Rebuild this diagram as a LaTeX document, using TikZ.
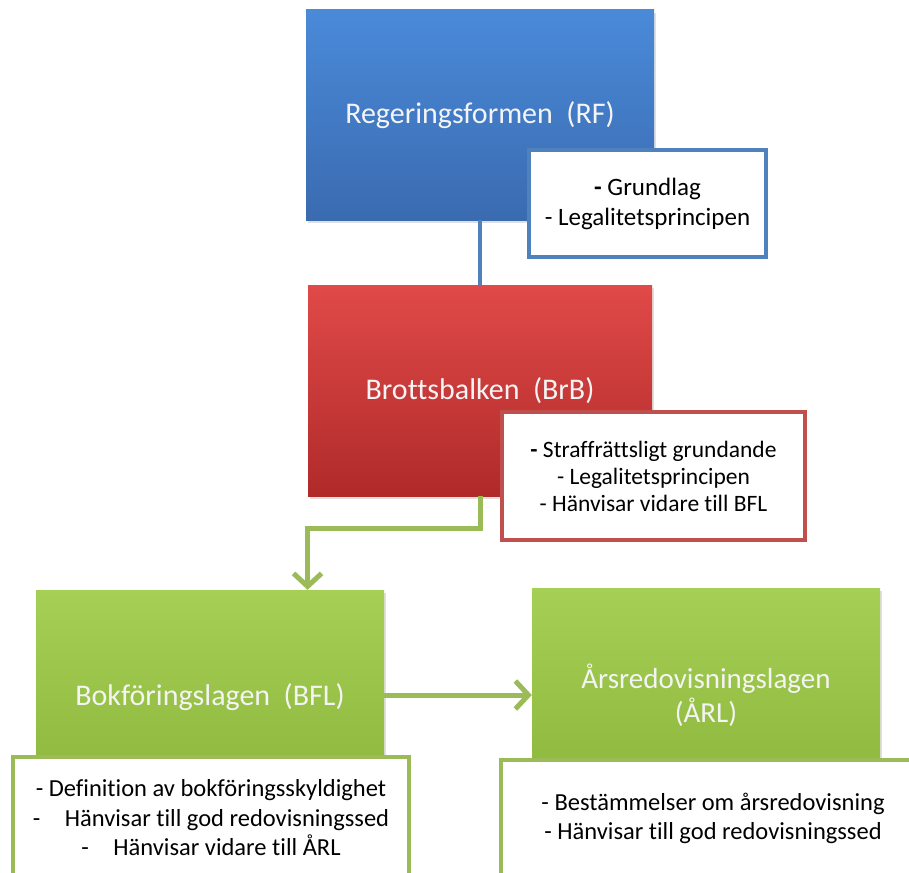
\documentclass[tikz,border=0pt]{standalone}
\usepackage{fontspec}
\setmainfont[Ligatures={NoCommon}]{Carlito}
\usetikzlibrary{arrows.meta,shadows,calc}
\definecolor{bluetop}{HTML}{4A8AD9}
\definecolor{bluebot}{HTML}{3A6BB0}
\definecolor{redtop}{HTML}{E04A48}
\definecolor{redbot}{HTML}{B02A2A}
\definecolor{greentop}{HTML}{A6CF55}
\definecolor{greenbot}{HTML}{8CB53C}
\definecolor{blueline}{HTML}{4F81BD}
\definecolor{redline}{HTML}{C0504D}
\definecolor{greenline}{HTML}{9BBB59}
\definecolor{titletext}{HTML}{F4F4F4}
\tikzset{
  mainbox/.style={rectangle, inner sep=0pt, text=titletext, align=center,
    font=\fontsize{30}{35}\selectfont,
    drop shadow={shadow xshift=2pt, shadow yshift=-3pt, opacity=0.25}},
  notebox/.style={rectangle, draw, line width=3.5pt, fill=white, inner sep=0pt,
    align=center, font=\fontsize{24.5}{29.5}\selectfont, text=black,
    drop shadow={shadow xshift=2pt, shadow yshift=-2pt, opacity=0.2}},
  blink/.style={draw=blueline, line width=4.5pt},
  glink/.style={draw=greenline, line width=5pt,
    -{Straight Barb[length=13pt,width=28pt,line width=5pt]}},
}
\begin{document}
\begin{tikzpicture}[x=1pt,y=-1pt]
\useasboundingbox (0,0) rectangle (909,872);
\clip (0,0) rectangle (909,872);
\fill[white] (0,0) rectangle (909,872);

% main boxes
\node[mainbox, top color=bluetop, bottom color=bluebot,
  minimum width=348pt, minimum height=210pt] (RF) at (480,115) {Regeringsformen\ \ (RF)};
\node[mainbox, top color=redtop, bottom color=redbot,
  minimum width=344pt, minimum height=211pt] (BrB) at (480,390.5) {Brottsbalken\ \ (BrB)};
\node[mainbox, top color=greentop, bottom color=greenbot,
  minimum width=348pt, minimum height=214pt] (BFL) at (210,697) {Bokföringslagen\ \ (BFL)};
\node[mainbox, top color=greentop, bottom color=greenbot,
  minimum width=348pt, minimum height=214pt, font=\fontsize{29}{34}\selectfont] (ARL) at (706,695) {Årsredovisningslagen\\(ÅRL)};

% connectors
\draw[blink] (RF.south) -- (BrB.north);
\coordinate (bend) at (480,528);
\coordinate (bflin) at ($(BFL.north west)!0.78!(BFL.north east)$);
\draw[glink] (BrB.south) -- (bend) -| (bflin);
\draw[glink] (BFL.east |- 0,695) -- (ARL.west |- 0,695);

% notes
\node[notebox, draw=blueline, minimum width=237pt, minimum height=107pt,
  font=\fontsize{25}{30}\selectfont]
  (RFn) at (647.5,203.5) {{\bfseries -} Grundlag\\- Legalitetsprincipen};
\node[notebox, draw=redline, minimum width=303pt, minimum height=128pt,
  font=\fontsize{23.5}{27}\selectfont]
  (BrBn) at (653.5,476) {{\bfseries -} Straffrättsligt grundande\\- Legalitetsprincipen\\- Hänvisar vidare till BFL};
\node[notebox, draw=greenline, minimum width=396pt, minimum height=122pt]
  (BFLn) at (211,818) {- Definition av bokföringsskyldighet\\-\quad Hänvisar till god redovisningssed\\-\quad Hänvisar vidare till ÅRL};
\node[notebox, draw=greenline, minimum width=424pt, minimum height=117pt]
  (ARLn) at (713,818.5) {- Bestämmelser om årsredovisning\\- Hänvisar till god redovisningssed};
\end{tikzpicture}
\end{document}
